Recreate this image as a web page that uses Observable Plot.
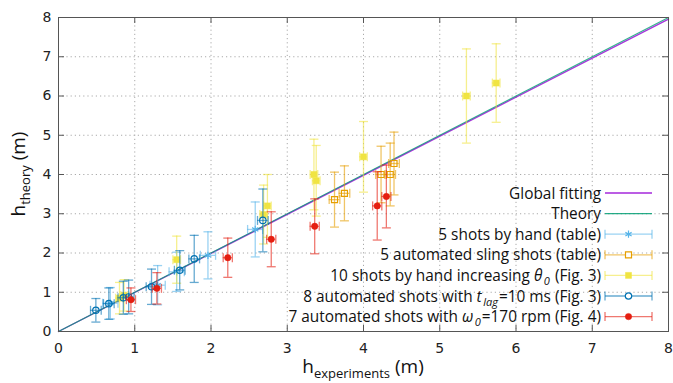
<!DOCTYPE html>
<html><head><meta charset="utf-8">
<script src="https://cdn.jsdelivr.net/npm/d3@7"></script>
<script src="https://cdn.jsdelivr.net/npm/@observablehq/plot@0.6"></script>
<style>body{margin:0;background:#fff}</style>
</head><body><div id="chart"></div>
<script>
// ---- data ----
const ticks = [0, 1, 2, 3, 4, 5, 6, 7, 8];
const lineX = [0, 8];
const fitY = [0, 7.96];
const theoryY = [0, 8];

const handX  = [0.68, 1.30, 1.55, 1.96, 2.58];
const handY  = [0.72, 1.18, 1.52, 1.94, 2.60];
const handEX = [0.10, 0.10, 0.10, 0.10, 0.10];
const handEY = [0.40, 0.50, 0.50, 0.60, 0.70];

const slingX  = [3.62, 3.75, 4.23, 4.35, 4.40];
const slingY  = [3.36, 3.52, 4.00, 4.00, 4.28];
const slingEX = [0.07, 0.07, 0.07, 0.07, 0.07];
const slingEY = [0.70, 0.70, 0.72, 0.80, 0.80];

const thetaX  = [0.80, 0.86, 1.55, 2.69, 2.74, 3.35, 3.38, 4.00, 5.35, 5.74];
const thetaY  = [0.85, 0.92, 1.83, 2.98, 3.20, 4.00, 3.84, 4.45, 6.00, 6.33];
const thetaEX = [0.05, 0.05, 0.05, 0.05, 0.05, 0.05, 0.05, 0.05, 0.05, 0.05];
const thetaEY = [0.40, 0.40, 0.60, 0.75, 0.80, 0.90, 0.90, 0.90, 1.20, 1.00];

const lagX  = [0.49, 0.66, 0.85, 0.92, 1.22, 1.59, 1.78, 2.68];
const lagY  = [0.54, 0.71, 0.86, 0.88, 1.14, 1.56, 1.85, 2.83];
const lagEX = [0.07, 0.07, 0.07, 0.07, 0.07, 0.07, 0.07, 0.07];
const lagEY = [0.30, 0.40, 0.42, 0.43, 0.45, 0.50, 0.60, 0.80];

const omegaX  = [0.95, 1.29, 2.22, 2.79, 3.36, 4.18, 4.30];
const omegaY  = [0.81, 1.10, 1.88, 2.35, 2.68, 3.20, 3.44];
const omegaEX = [0.06, 0.06, 0.06, 0.06, 0.06, 0.06, 0.06];
const omegaEY = [0.30, 0.40, 0.50, 0.70, 0.70, 0.87, 0.80];

// ---- helpers ----
const hcap = {draw(ctx, size){ const r = Math.sqrt(size/Math.PI); ctx.moveTo(-r,0); ctx.lineTo(r,0); }};
const vcap = {draw(ctx, size){ const r = Math.sqrt(size/Math.PI); ctx.moveTo(0,-r); ctx.lineTo(0,r); }};
const rowsOf = (X,Y,EX,EY) => X.map((x,i)=>({x, y:Y[i], ex:EX[i], ey:EY[i]}));

const series = [
  {rows: rowsOf(handX, handY, handEX, handEY), color:"#56B4E9", symbol:"asterisk", filled:false},
  {rows: rowsOf(slingX, slingY, slingEX, slingEY), color:"#E69F00", symbol:"square", filled:false},
  {rows: rowsOf(thetaX, thetaY, thetaEX, thetaEY), color:"#F0E442", symbol:"square", filled:true},
  {rows: rowsOf(lagX, lagY, lagEX, lagEY), color:"#0072B2", symbol:"circle", filled:false},
  {rows: rowsOf(omegaX, omegaY, omegaEX, omegaEY), color:"#E51E10", symbol:"circle", filled:true}
];

const barOp = 0.6, capR = 4.5;
const dataMarks = series.flatMap(s => [
  Plot.ruleX(s.rows, {x:"x", y1:d=>d.y-d.ey, y2:d=>d.y+d.ey, stroke:s.color, strokeOpacity:barOp, strokeWidth:1.3}),
  Plot.ruleY(s.rows, {y:"y", x1:d=>d.x-d.ex, x2:d=>d.x+d.ex, stroke:s.color, strokeOpacity:barOp, strokeWidth:1.3}),
  Plot.dot(s.rows, {x:"x", y:d=>d.y-d.ey, symbol:hcap, r:capR, stroke:s.color, strokeOpacity:barOp, strokeWidth:1.3}),
  Plot.dot(s.rows, {x:"x", y:d=>d.y+d.ey, symbol:hcap, r:capR, stroke:s.color, strokeOpacity:barOp, strokeWidth:1.3}),
  Plot.dot(s.rows, {x:d=>d.x-d.ex, y:"y", symbol:vcap, r:capR, stroke:s.color, strokeOpacity:barOp, strokeWidth:1.3}),
  Plot.dot(s.rows, {x:d=>d.x+d.ex, y:"y", symbol:vcap, r:capR, stroke:s.color, strokeOpacity:barOp, strokeWidth:1.3}),
  Plot.dot(s.rows, {x:"x", y:"y", symbol:s.symbol, r: s.symbol==="circle" ? 3.2 : 3.4,
     fill: s.filled ? s.color : "none", stroke: s.color, strokeWidth: s.filled ? 0.5 : 1.2})
]);

const W = 673, H = 383, mL = 58, mR = 5, mT = 17, mB = 52;
const iw = W - mL - mR, ih = H - mT - mB;

const chart = Plot.plot({
  width: W, height: H,
  marginLeft: mL, marginRight: mR, marginTop: mT, marginBottom: mB,
  style: {fontFamily: "DejaVu Sans", fontSize: "14px", background: "#fff", color: "#222"},
  x: {domain: [0, 8], label: null},
  y: {domain: [0, 8], label: null},
  marks: [
    Plot.gridX(ticks.slice(1, -1), {stroke:"#aaa", strokeOpacity:1, strokeDasharray:"1.2,3"}),
    Plot.gridY(ticks.slice(1, -1), {stroke:"#aaa", strokeOpacity:1, strokeDasharray:"1.2,3"}),
    Plot.axisX(ticks, {anchor:"bottom", tickSize:0, tickPadding:12, label:null}),
    Plot.axisY(ticks, {anchor:"left", tickSize:0, tickPadding:7, label:null}),
    Plot.tickX(ticks, {x:d=>d, insetTop: ih-6, stroke:"#555"}),
    Plot.tickX(ticks, {x:d=>d, insetBottom: ih-6, stroke:"#555"}),
    Plot.tickY(ticks, {y:d=>d, insetRight: iw-6, stroke:"#555"}),
    Plot.tickY(ticks, {y:d=>d, insetLeft: iw-6, stroke:"#555"}),
    Plot.line(lineX.map((x,i)=>({x, y:fitY[i]})), {x:"x", y:"y", stroke:"#9400D3", strokeWidth:1.4, strokeOpacity:0.8}),
    Plot.line(lineX.map((x,i)=>({x, y:theoryY[i]})), {x:"x", y:"y", stroke:"#009E73", strokeWidth:1.2, strokeOpacity:0.8}),
    ...dataMarks,
    Plot.frame({stroke:"#555", strokeWidth:1})
  ]
});

// ---- axis labels and legend (text with sub/italics) ----
const svg = d3.select(chart);
const ff = "'Open Sans', sans-serif";
function richText(g, parts, attrs){
  const t = g.append("text");
  Object.entries(attrs).forEach(([k,v])=>t.attr(k,v));
  let shifted = false;
  parts.forEach(p => {
    const ts = t.append("tspan").text(p.t);
    if (p.i) ts.attr("font-style","italic");
    if (p.sub && !shifted){ ts.attr("dy", p.dy || "0.3em").attr("dx", p.dx || 0); shifted = true; }
    else if (!p.sub && shifted){ ts.attr("dy", p.dyBack || "-0.3em").attr("dx", p.dx || 0); shifted = false; }
    if (p.sub) ts.attr("font-size", p.fs);
  });
  return t;
}
const lab = svg.append("g").attr("font-family", ff).attr("fill","#111");
richText(lab, [{t:"h"},{t:"experiments",sub:true,fs:13,dy:"5"},{t:" (m)",dyBack:"-5"}],
  {x: mL + iw/2, y: 373, "text-anchor":"middle", "font-size": 19});
richText(lab, [{t:"h"},{t:"theory",sub:true,fs:13,dy:"5"},{t:" (m)",dyBack:"-5"}],
  {transform:`translate(25,${mT+ih/2}) rotate(-90)`, "text-anchor":"middle", "font-size": 19});

const legend = [
  {parts:[{t:"Global fitting"}], color:"#9400D3", kind:"line"},
  {parts:[{t:"Theory"}], color:"#009E73", kind:"line"},
  {parts:[{t:"5 shots by hand (table)"}], s:0},
  {parts:[{t:"5 automated sling shots (table)"}], s:1},
  {parts:[{t:"10 shots by hand increasing "},{t:"θ",i:true},{t:"0",i:true,sub:true,fs:11,dy:"4",dx:1.5},{t:" (Fig. 3)",dyBack:"-4",dx:1}], s:2},
  {parts:[{t:"8 automated shots with "},{t:"t",i:true},{t:"lag",i:true,sub:true,fs:11,dy:"4",dx:1.5},{t:"=10 ms (Fig. 3)",dyBack:"-4",dx:1}], s:3},
  {parts:[{t:"7 automated shots with "},{t:"ω",i:true},{t:"0",i:true,sub:true,fs:11,dy:"4",dx:1.5},{t:"=170 rpm (Fig. 4)",dyBack:"-4",dx:1}], s:4}
];
const lg = svg.append("g").attr("font-family", ff).attr("font-size", 15.4).attr("fill","#111");
const lx0 = 605, lx1 = 652, ly0 = 193, ldy = 20.6;
legend.forEach((e, i) => {
  const y = ly0 + i*ldy;
  richText(lg, e.parts, {x: 601, y: y, dy: "0.36em", "text-anchor":"end"});
  if (e.kind === "line"){
    lg.append("line").attr("x1",lx0).attr("x2",lx1).attr("y1",y).attr("y2",y)
      .attr("stroke",e.color).attr("stroke-width",1.4).attr("stroke-opacity",0.85);
  } else {
    const s = series[e.s], c = s.color;
    const gg = lg.append("g").attr("stroke", c).attr("stroke-width",1.3);
    gg.append("line").attr("x1",lx0).attr("x2",lx1).attr("y1",y).attr("y2",y).attr("stroke-opacity",barOp);
    gg.append("line").attr("x1",lx0).attr("x2",lx0).attr("y1",y-capR).attr("y2",y+capR).attr("stroke-opacity",barOp);
    gg.append("line").attr("x1",lx1).attr("x2",lx1).attr("y1",y-capR).attr("y2",y+capR).attr("stroke-opacity",barOp);
    const r = s.symbol==="circle" ? 3.2 : 3.4;
    const sym = s.symbol==="asterisk" ? d3.symbolAsterisk : s.symbol==="square" ? d3.symbolSquare : d3.symbolCircle;
    gg.append("path").attr("d", d3.symbol(sym, r*r*Math.PI)()).attr("transform",`translate(${(lx0+lx1)/2},${y})`)
      .attr("fill", s.filled ? c : "#fff").attr("stroke-width", s.filled ? 0.5 : 1.2);
  }
});

document.getElementById("chart").appendChild(chart);
</script>
</body></html>
